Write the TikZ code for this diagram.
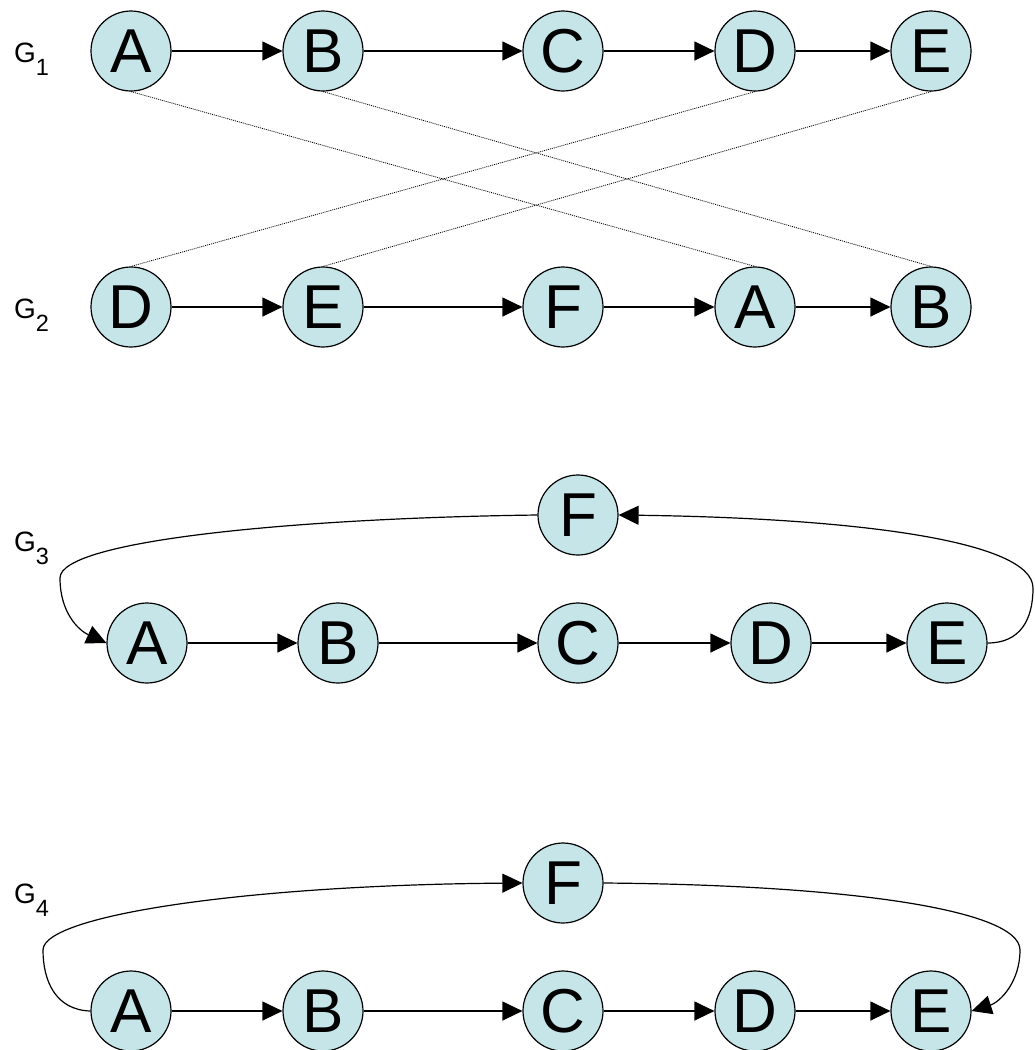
\documentclass[tikz,border=0pt]{standalone}
\usepackage{fontspec}
\setmainfont{Liberation Sans}
\usetikzlibrary{arrows.meta}
\definecolor{nodefill}{RGB}{197,229,232}
\tikzset{
  vtx/.style={circle, draw=black, line width=1.2pt, fill=nodefill, minimum size=80pt, inner sep=0pt,
    font=\fontsize{62}{62}\selectfont},
  edge/.style={line width=1.2pt, -{Triangle[length=20pt,width=19pt]}},
  curveedge/.style={line width=1.2pt},
  match/.style={line width=0.8pt, dash pattern=on 1pt off 1pt},
  glabel/.style={anchor=base west, inner sep=0pt}
}
\newcommand{\gsub}[1]{{\fontsize{28}{28}\selectfont G}\raisebox{-13pt}{\fontsize{23.5}{23.5}\selectfont #1}}
\begin{document}
\begin{tikzpicture}[x=1pt,y=-1pt]
\useasboundingbox (0,0) rectangle (1034,1050);
\clip (0,0) rectangle (1034,1050);
% labels
\node[glabel] (l1) at (14,62) {\gsub{1}};
\node[glabel] (l2) at (14,318) {\gsub{2}};
\node[glabel] (l3) at (14,551) {\gsub{3}};
\node[glabel] (l4) at (14,903) {\gsub{4}};
% G1
\node[vtx] (a1) at (131,51) {A};
\node[vtx] (b1) at (323,51) {B};
\node[vtx] (c1) at (563,51) {C};
\node[vtx] (d1) at (755,51) {D};
\node[vtx] (e1) at (931,51) {E};
% G2
\node[vtx] (d2) at (131,307) {D};
\node[vtx] (e2) at (323,307) {E};
\node[vtx] (f2) at (563,307) {F};
\node[vtx] (a2) at (755,307) {A};
\node[vtx] (b2) at (931,307) {B};
% G3
\node[vtx] (f3) at (578,515) {F};
\node[vtx] (a3) at (147,643) {A};
\node[vtx] (b3) at (338,643) {B};
\node[vtx] (c3) at (578,643) {C};
\node[vtx] (d3) at (771,643) {D};
\node[vtx] (e3) at (947,643) {E};
% G4
\node[vtx] (f4) at (563,883) {F};
\node[vtx] (a4) at (131,1011) {A};
\node[vtx] (b4) at (323,1011) {B};
\node[vtx] (c4) at (563,1011) {C};
\node[vtx] (d4) at (755,1011) {D};
\node[vtx] (e4) at (931,1011) {E};
% G1 edges
\draw[edge] (a1) -- (b1);
\draw[edge] (b1) -- (c1);
\draw[edge] (c1) -- (d1);
\draw[edge] (d1) -- (e1);
% G2 edges
\draw[edge] (d2) -- (e2);
\draw[edge] (e2) -- (f2);
\draw[edge] (f2) -- (a2);
\draw[edge] (a2) -- (b2);
% matching lines
\draw[match] (a1.south) -- (a2.north);
\draw[match] (b1.south) -- (b2.north);
\draw[match] (d1.south) -- (d2.north);
\draw[match] (e1.south) -- (e2.north);
% G3 edges
\draw[edge] (a3) -- (b3);
\draw[edge] (b3) -- (c3);
\draw[edge] (c3) -- (d3);
\draw[edge] (d3) -- (e3);
\coordinate (r3) at (1033,588);
\coordinate (l3c) at (60,578);
\draw[curveedge] (e3.east) .. controls (1020,643) and (1033,620) .. (r3);
\draw[edge] (r3) .. controls (1033,540) and (850,518) .. (f3.east);
\draw[curveedge] (f3.west) .. controls (300,518) and (60,540) .. (l3c);
\draw[edge] (l3c) .. controls (60,612) and (78,630) .. (a3.west);
% G4 edges
\draw[edge] (a4) -- (b4);
\draw[edge] (b4) -- (c4);
\draw[edge] (c4) -- (d4);
\draw[edge] (d4) -- (e4);
\coordinate (l4c) at (43,950);
\coordinate (r4c) at (1020,950);
\draw[curveedge] (a4.west) .. controls (55,1010) and (43,980) .. (l4c);
\draw[edge] (l4c) .. controls (43,915) and (250,885) .. (f4.west);
\draw[curveedge] (f4.east) .. controls (850,885) and (1020,910) .. (r4c);
\draw[edge] (r4c) .. controls (1020,982) and (1000,1002) .. (e4.east);
\end{tikzpicture}
\end{document}
